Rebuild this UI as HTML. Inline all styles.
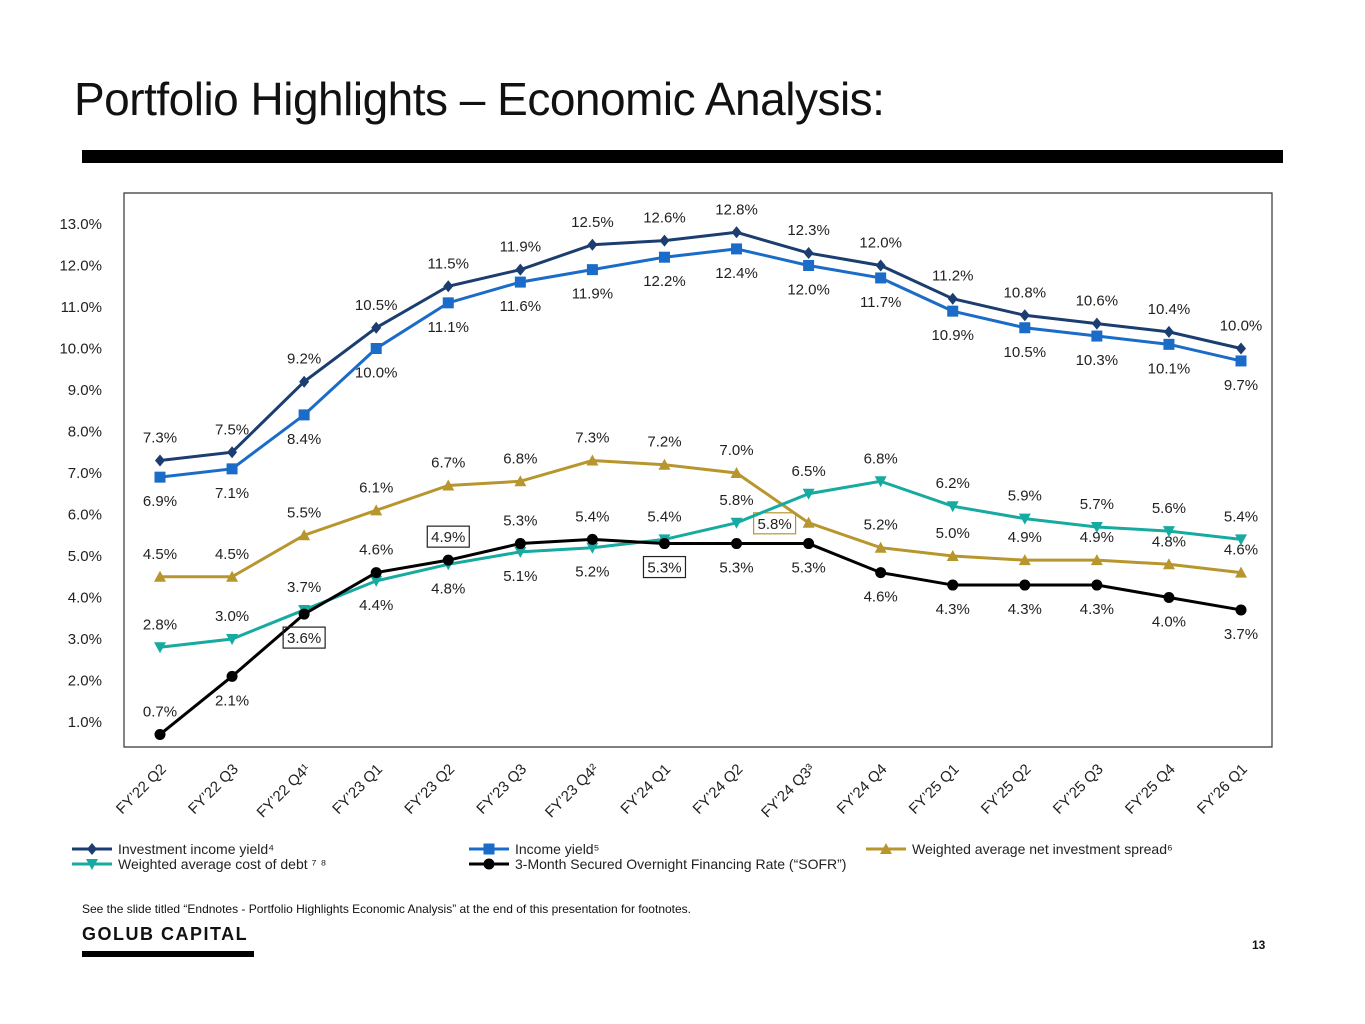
<!DOCTYPE html>
<html><head><meta charset="utf-8"><style>
body{margin:0;width:1365px;height:1024px;background:#fff;font-family:"Liberation Sans",sans-serif;overflow:hidden;position:relative}
.t{position:absolute}
</style></head><body>
<div class="t" style="left:74px;top:72px;font-size:46px;color:#111;letter-spacing:-0.5px">Portfolio Highlights – Economic Analysis:</div>
<div class="t" style="left:82px;top:150px;width:1201px;height:13px;background:#000"></div>
<svg id="chart" width="1365" height="1024" style="position:absolute;left:0;top:0" font-family="Liberation Sans, sans-serif"></svg>
<div class="t" style="left:82px;top:902px;font-size:12px;color:#111">See the slide titled “Endnotes - Portfolio Highlights Economic Analysis” at the end of this presentation for footnotes.</div>
<div class="t" style="left:82px;top:924px;font-size:18px;font-weight:bold;letter-spacing:1.5px;color:#111">GOLUB CAPITAL</div>
<div class="t" style="left:82px;top:951px;width:172px;height:6px;background:#000"></div>
<div class="t" style="left:1252px;top:938px;font-size:12px;font-weight:bold;color:#111">13</div>
<script>
const categories=["FY’22 Q2","FY’22 Q3","FY’22 Q4¹","FY’23 Q1","FY’23 Q2","FY’23 Q3","FY’23 Q4²","FY’24 Q1","FY’24 Q2","FY’24 Q3³","FY’24 Q4","FY’25 Q1","FY’25 Q2","FY’25 Q3","FY’25 Q4","FY’26 Q1"];
const investmentIncomeYield=[7.3,7.5,9.2,10.5,11.5,11.9,12.5,12.6,12.8,12.3,12.0,11.2,10.8,10.6,10.4,10.0];
const incomeYield=[6.9,7.1,8.4,10.0,11.1,11.6,11.9,12.2,12.4,12.0,11.7,10.9,10.5,10.3,10.1,9.7];
const netSpread=[4.5,4.5,5.5,6.1,6.7,6.8,7.3,7.2,7.0,5.8,5.2,5.0,4.9,4.9,4.8,4.6];
const costOfDebt=[2.8,3.0,3.7,4.4,4.8,5.1,5.2,5.4,5.8,6.5,6.8,6.2,5.9,5.7,5.6,5.4];
const sofr=[0.7,2.1,3.6,4.6,4.9,5.3,5.4,5.3,5.3,5.3,4.6,4.3,4.3,4.3,4.0,3.7];
const yTicks=[1,2,3,4,5,6,7,8,9,10,11,12,13];
// label placement: 1 above, -1 below
const debtSide=[1,1,1,-1,-1,-1,-1,1,1,1,1,1,1,1,1,1];
const sofrSide=[1,-1,-1,1,1,1,1,-1,-1,-1,-1,-1,-1,-1,-1,-1];
const sofrBoxed=[2,4,7];
const spreadBoxed=[9];

const svg=document.getElementById('chart');
const NS='http://www.w3.org/2000/svg';
const X0=160,DX=(1241-160)/15;
const x=i=>X0+i*DX;
const y=v=>763.5-v*41.5;
function el(tag,attrs,parent){const e=document.createElementNS(NS,tag);for(const k in attrs)e.setAttribute(k,attrs[k]);(parent||svg).appendChild(e);return e;}
const frame=el('path',{d:'M124,193 H1272 V747 H124 Z',fill:'none',stroke:'#333','stroke-width':1.2});


yTicks.forEach(v=>{const t=el('text',{x:102,y:y(v)+5,'text-anchor':'end','font-size':15,fill:'#222'});t.textContent=v.toFixed(1)+'%';

});
categories.forEach((c,i)=>{const t=el('text',{x:0,y:0,'text-anchor':'end','font-size':15,fill:'#222',transform:`translate(${x(i)+7},770) rotate(-45)`});t.textContent=c;

});
function marker(type,cx,cy,col,g){
  if(type==='diamond')return el('path',{d:`M${cx},${cy-6}L${cx+5},${cy}L${cx},${cy+6}L${cx-5},${cy}Z`,fill:col},g);
  if(type==='square')return el('rect',{x:cx-5.5,y:cy-5.5,width:11,height:11,fill:col},g);
  if(type==='up')return el('path',{d:`M${cx},${cy-6}L${cx+6},${cy+5}L${cx-6},${cy+5}Z`,fill:col},g);
  if(type==='down')return el('path',{d:`M${cx},${cy+6}L${cx+6},${cy-5}L${cx-6},${cy-5}Z`,fill:col},g);
  return el('circle',{cx,cy,r:5.5,fill:col},g);
}
function series(name,data,col,type,sides,boxed,boxCol){
  const g=el('g',{});
  
  
  el('polyline',{points:data.map((v,i)=>x(i)+','+y(v)).join(' '),fill:'none',stroke:col,'stroke-width':3},g);
  data.forEach((v,i)=>{const m=marker(type,x(i),y(v),col,g);
    
    });
  data.forEach((v,i)=>{
    const s=sides[i];let lx=x(i),ly=y(v)+(s>0?-18:29);
    if(boxed&&boxed.includes(i)&&name==='net-spread-series'){lx=x(i)-34;ly=y(v)+6;}
    const t=el('text',{x:lx,y:ly,'text-anchor':'middle','font-size':15,fill:'#222'},g);t.textContent=v.toFixed(1)+'%';
    
    
    if(boxed&&boxed.includes(i)){el('rect',{x:lx-21,y:ly-16,width:42,height:21,fill:'none',stroke:boxCol,'stroke-width':1.2},g);}
  });
}
const all=n=>Array(16).fill(n);
series('investment-income-yield-series',investmentIncomeYield,'#1b3d70','diamond',all(1));
series('income-yield-series',incomeYield,'#1a6cc8','square',all(-1));
series('net-spread-series',netSpread,'#b8962e','up',all(1),spreadBoxed,'#b8962e');
series('cost-of-debt-series',costOfDebt,'#17aaa0','down',debtSide);
series('sofr-series',sofr,'#000','circle',sofrSide,sofrBoxed,'#222');
const legend=[['Investment income yield⁴','#1b3d70','diamond',72,849],['Income yield⁵','#1a6cc8','square',469,849],['Weighted average net investment spread⁶','#b8962e','up',866,849],['Weighted average cost of debt ⁷ ⁸','#17aaa0','down',72,864],['3-Month Secured Overnight Financing Rate (“SOFR”)','#000','circle',469,864]];
legend.forEach(l=>{const g=el('g',{});
  
  
  el('line',{x1:l[3],x2:l[3]+40,y1:l[4],y2:l[4],stroke:l[1],'stroke-width':3},g);
  marker(l[2],l[3]+20,l[4],l[1],g);
  const t=el('text',{x:l[3]+46,y:l[4]+5,'font-size':14,fill:'#222'},g);t.textContent=l[0];});
</script>
</body></html>
